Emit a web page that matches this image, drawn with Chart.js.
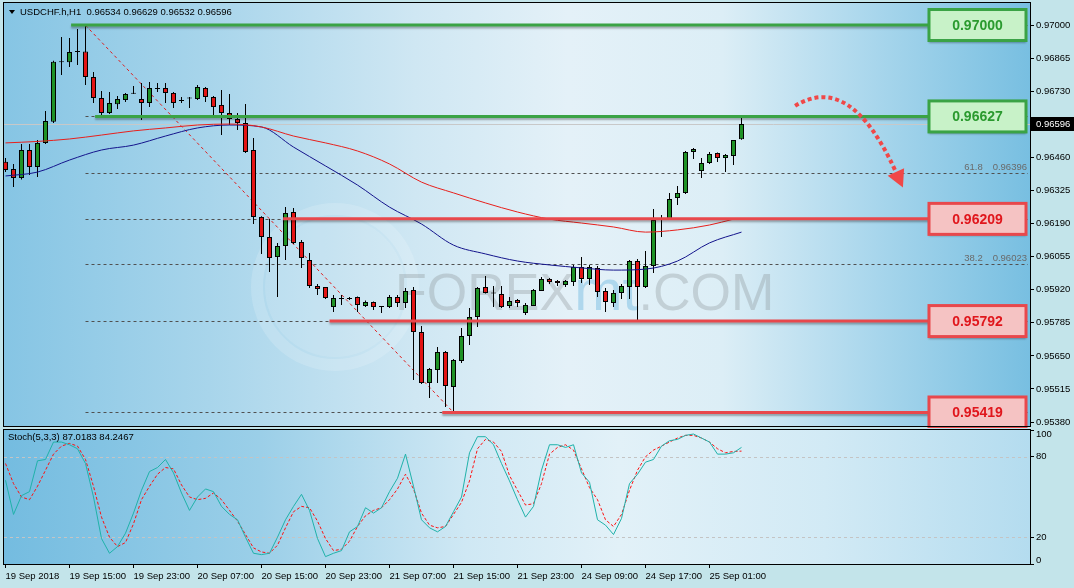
<!DOCTYPE html>
<html lang="en">
<head>
<meta charset="UTF-8">
<title>USDCHF.h H1</title>
<script src="https://cdn.jsdelivr.net/npm/chart.js@4.4.1/dist/chart.umd.min.js"></script>
<style>
  html, body { margin: 0; padding: 0; background: #c3e4ea; }
  #wrap { position: relative; width: 1074px; height: 588px; overflow: hidden; }
  #main { position: absolute; left: 0; top: 0; }
  #stoch { position: absolute; left: 0; top: 428px; }
</style>
</head>
<body>
<div id="wrap">
  <canvas id="main" width="1074" height="428"></canvas>
  <canvas id="stoch" width="1074" height="160"></canvas>
</div>
<script>
// ---- data ----
var symbolLabel = 'USDCHF.h,H1';

var opens = [
  0.96442, 0.96412, 0.96376, 0.96490, 0.96421, 0.96519, 0.96605, 0.96850, 0.96848, 0.96890,
  0.96892, 0.96788, 0.96702, 0.96641, 0.96677, 0.96694, 0.96720, 0.96698, 0.96682, 0.96740,
  0.96743, 0.96723, 0.96690, 0.96700, 0.96698, 0.96743, 0.96706, 0.96674, 0.96641, 0.96616,
  0.96600, 0.96490, 0.96217, 0.96135, 0.96053, 0.96098, 0.96237, 0.96115, 0.96041, 0.95935,
  0.95931, 0.95849, 0.95884, 0.95882, 0.95890, 0.95854, 0.95870, 0.95849, 0.95849, 0.95890,
  0.95866, 0.95919, 0.95747, 0.95539, 0.95592, 0.95666, 0.95523, 0.95629, 0.95731, 0.95809,
  0.95931, 0.95907, 0.95902, 0.95854, 0.95878, 0.95825, 0.95854, 0.95915, 0.95964, 0.95956,
  0.95939, 0.95951, 0.96013, 0.95964, 0.96009, 0.95915, 0.95866, 0.95907, 0.95931, 0.96037,
  0.95931, 0.96017, 0.96204, 0.96206, 0.96294, 0.96315, 0.96482, 0.96404, 0.96437, 0.96478,
  0.96457, 0.96466, 0.96534
];
var highs = [
  0.96457, 0.96433, 0.96514, 0.96514, 0.96531, 0.96649, 0.96854, 0.96951, 0.96947, 0.96984,
  0.96996, 0.96808, 0.96731, 0.96727, 0.96710, 0.96723, 0.96751, 0.96763, 0.96767, 0.96763,
  0.96763, 0.96727, 0.96706, 0.96706, 0.96755, 0.96747, 0.96710, 0.96735, 0.96718, 0.96641,
  0.96678, 0.96539, 0.96220, 0.96208, 0.96111, 0.96257, 0.96253, 0.96123, 0.96070, 0.95943,
  0.95931, 0.95898, 0.95898, 0.95890, 0.95892, 0.95876, 0.95872, 0.95851, 0.95898, 0.95898,
  0.95927, 0.95931, 0.95772, 0.95601, 0.95686, 0.95670, 0.95637, 0.95764, 0.95845, 0.95931,
  0.95976, 0.95935, 0.95935, 0.95890, 0.95882, 0.95866, 0.95923, 0.95972, 0.95968, 0.95960,
  0.95960, 0.96021, 0.96053, 0.96021, 0.96017, 0.95927, 0.95919, 0.95943, 0.96041, 0.96045,
  0.96078, 0.96249, 0.96225, 0.96315, 0.96343, 0.96486, 0.96498, 0.96457, 0.96482, 0.96480,
  0.96474, 0.96531, 0.96629
];
var lows = [
  0.96400, 0.96339, 0.96370, 0.96388, 0.96380, 0.96514, 0.96600, 0.96796, 0.96829, 0.96837,
  0.96755, 0.96682, 0.96629, 0.96637, 0.96657, 0.96686, 0.96718, 0.96612, 0.96665, 0.96727,
  0.96682, 0.96661, 0.96682, 0.96661, 0.96694, 0.96686, 0.96621, 0.96551, 0.96592, 0.96572,
  0.96478, 0.96188, 0.96066, 0.95992, 0.95890, 0.96041, 0.96106, 0.96009, 0.95927, 0.95898,
  0.95882, 0.95829, 0.95858, 0.95878, 0.95829, 0.95849, 0.95837, 0.95825, 0.95845, 0.95849,
  0.95845, 0.95552, 0.95535, 0.95478, 0.95539, 0.95441, 0.95419, 0.95621, 0.95694, 0.95768,
  0.95905, 0.95849, 0.95845, 0.95845, 0.95849, 0.95817, 0.95854, 0.95915, 0.95943, 0.95935,
  0.95931, 0.95935, 0.95947, 0.95939, 0.95890, 0.95829, 0.95849, 0.95882, 0.95882, 0.95792,
  0.95927, 0.95988, 0.96135, 0.96204, 0.96266, 0.96310, 0.96453, 0.96376, 0.96433, 0.96441,
  0.96400, 0.96429, 0.96532
];
var closes = [
  0.96408, 0.96376, 0.96490, 0.96421, 0.96519, 0.96608, 0.96850, 0.96848, 0.96890, 0.96892,
  0.96788, 0.96702, 0.96641, 0.96682, 0.96698, 0.96718, 0.96722, 0.96682, 0.96743, 0.96739,
  0.96723, 0.96682, 0.96692, 0.96702, 0.96747, 0.96706, 0.96665, 0.96641, 0.96616, 0.96600,
  0.96482, 0.96217, 0.96135, 0.96049, 0.96098, 0.96233, 0.96111, 0.96049, 0.95935, 0.95923,
  0.95886, 0.95886, 0.95882, 0.95884, 0.95858, 0.95870, 0.95849, 0.95851, 0.95890, 0.95866,
  0.95915, 0.95747, 0.95539, 0.95596, 0.95666, 0.95527, 0.95633, 0.95731, 0.95809, 0.95927,
  0.95907, 0.95905, 0.95849, 0.95874, 0.95866, 0.95858, 0.95919, 0.95964, 0.95951, 0.95947,
  0.95956, 0.96013, 0.95964, 0.96013, 0.95911, 0.95870, 0.95907, 0.95935, 0.96037, 0.95931,
  0.96017, 0.96204, 0.96206, 0.96290, 0.96315, 0.96482, 0.96494, 0.96437, 0.96474, 0.96457,
  0.96470, 0.96531, 0.96596
];

// moving averages, read every 4th bar
var maSlowAt = [0, 4, 8, 12, 16, 20, 24, 28, 32, 36, 40, 44, 48, 52, 56, 60, 64, 68, 72, 76, 80, 84, 88, 91];
var maSlow = [0.96519, 0.96525, 0.96535, 0.96551, 0.96568, 0.96580, 0.96592, 0.96596, 0.96584, 0.96547,
  0.96519, 0.96486, 0.96433, 0.96359, 0.96315, 0.96274, 0.96237, 0.96208, 0.96192, 0.96176,
  0.96155, 0.96164, 0.96184, 0.96208];
var maFastAt = [0, 4, 8, 12, 16, 20, 24, 28, 32, 36, 40, 44, 48, 52, 56, 60, 64, 68, 72, 76, 80, 84, 88, 92];
var maFast = [0.96384, 0.96400, 0.96449, 0.96490, 0.96510, 0.96547, 0.96580, 0.96592, 0.96584, 0.96502,
  0.96425, 0.96347, 0.96257, 0.96188, 0.96102, 0.96066, 0.96037, 0.96021, 0.96009, 0.96000,
  0.96004, 0.96037, 0.96111, 0.96155];

var stochK = [
  62.5, 37, 51, 54, 77, 78, 91, 91, 89, 86,
  75, 50, 19, 8, 13, 23, 38, 55, 69, 72,
  78, 68, 53, 40, 50, 56, 54, 43, 37, 33,
  20, 8, 7, 8, 20, 33, 43, 52, 40, 19,
  5.5, 8, 10, 24, 28, 42, 38, 42, 54, 64,
  82, 58, 33, 27, 24, 28, 39, 50, 83, 95,
  95, 89, 75, 62, 48, 35, 43, 70, 89, 89,
  87, 89, 68, 61, 33, 29, 22, 34, 60, 67,
  76, 78, 88, 92, 93, 96, 97, 94, 91, 82,
  82, 83, 87.0183
];
var stochD = [
  75, 60, 50, 48, 58, 70, 82, 88, 90, 88,
  78, 58, 35, 20, 13, 16, 30, 48, 58, 67,
  72, 71, 59, 50, 48, 49, 53, 48, 40, 32,
  22, 12, 9, 8, 14, 27, 39, 43, 42, 32,
  19, 10, 11, 17, 28, 36, 40, 42, 48, 56,
  67, 56, 38, 29, 27, 28, 37, 46, 62, 86,
  93, 91, 84, 66, 55, 44, 45, 60, 82, 87,
  89, 85, 71, 57, 48, 33, 28, 37, 55, 70,
  80, 85, 88, 91, 94, 96, 96, 94, 91, 86,
  83, 84, 84.2467
];

var priceTicks = [0.97000, 0.96865, 0.96730, 0.96595, 0.96460, 0.96325, 0.96190, 0.96055, 0.95920, 0.95785, 0.95650, 0.95515, 0.95380];
var stochTicks = [100, 80, 20, 0];
var stochLevels = [80, 20];
var timeIdx = [0, 8, 16, 24, 32, 40, 48, 56, 64, 72, 80, 88];
var timeLabels = ['19 Sep 2018', '19 Sep 15:00', '19 Sep 23:00', '20 Sep 07:00', '20 Sep 15:00', '20 Sep 23:00',
  '21 Sep 07:00', '21 Sep 15:00', '21 Sep 23:00', '24 Sep 09:00', '24 Sep 17:00', '25 Sep 01:00'];

var levelPrices = [0.97000, 0.96627, 0.96209, 0.95792, 0.95419];
var levelFrom = [8.2, 11.2, 34.7, 40.5, 54.6];   // bar where each drawn line starts
var levelBull = [true, true, false, false, false];

var fibLevels = [0.95419, 0.95792, 0.96023, 0.96209, 0.96396, 0.96627, 0.96999];
var fibNames = ['0.0', '23.6', '38.2', '50.0', '61.8', '76.4', '100.0'];
var fibFrom = 10, fibTo = 56;

// ---- drawing ----
var FONT = '"Liberation Sans", Arial, sans-serif';
var X_MIN = -0.1875, X_MAX = 128.0625;
var last = closes.length - 1;

function bg(ctx, a, stops) {
    var g = ctx.createLinearGradient(a.left, 0, a.right, 0);
    stops.forEach(function (s) { g.addColorStop(s[0], s[1]); });
    ctx.fillStyle = g;
    ctx.fillRect(a.left, a.top, a.right - a.left, a.bottom - a.top);
}

function frame(ctx, a) {
    ctx.strokeStyle = '#000';
    ctx.lineWidth = 1;
    ctx.strokeRect(a.left - 0.5, a.top - 0.5, a.right - a.left + 1, a.bottom - a.top + 1);
}

var mainDeco = {
    id: 'mainDeco',
    beforeDraw: function (chart) {
        var ctx = chart.ctx, a = chart.chartArea;
        ctx.save();
        ctx.fillStyle = '#c3e4ea';
        ctx.fillRect(0, 0, chart.width, chart.height);
        bg(ctx, a, [[0, '#86c5e4'], [0.2, '#a8d5eb'], [0.4, '#cfe7f3'], [0.55, '#e4f1f8'],
                    [0.7, '#dceef6'], [0.85, '#a8d6ec'], [1, '#78bfe1']]);
        ctx.restore();
    },
    beforeDatasetsDraw: function (chart) {
        var ctx = chart.ctx, a = chart.chartArea, x = chart.scales.x, y = chart.scales.y;
        ctx.save();
        ctx.beginPath();
        ctx.rect(a.left, a.top, a.right - a.left, a.bottom - a.top);
        ctx.clip();

        // watermark
        ctx.fillStyle = 'rgba(255,255,255,0.12)';
        ctx.beginPath(); ctx.arc(335, 287, 70, 0, Math.PI * 2); ctx.fill();
        ctx.strokeStyle = 'rgba(255,255,255,0.16)'; ctx.lineWidth = 12;
        ctx.beginPath(); ctx.arc(335, 287, 78, 0, Math.PI * 2); ctx.stroke();
        ctx.font = '52px ' + FONT;
        ctx.textBaseline = 'alphabetic';
        var wx = 395;
        ctx.fillStyle = 'rgba(130,135,140,0.30)';
        ctx.fillText('FOREX', wx, 310);
        wx += ctx.measureText('FOREX').width;
        ctx.fillStyle = 'rgba(110,185,225,0.45)';
        ctx.font = '58px ' + FONT;
        ctx.fillText('mt', wx, 310);
        wx += ctx.measureText('mt').width;
        ctx.font = '52px ' + FONT;
        ctx.fillStyle = 'rgba(130,135,140,0.30)';
        ctx.fillText('.COM', wx, 310);

        // current price line
        var cy = Math.round(y.getPixelForValue(closes[last])) + 0.5;
        ctx.strokeStyle = '#c8c8c8'; ctx.lineWidth = 1;
        ctx.beginPath(); ctx.moveTo(a.left, cy); ctx.lineTo(a.right, cy); ctx.stroke();

        // fibo levels
        ctx.strokeStyle = '#505050';
        ctx.setLineDash([3, 3]);
        fibLevels.forEach(function (v) {
            var py = Math.round(y.getPixelForValue(v)) + 0.5;
            ctx.beginPath(); ctx.moveTo(x.getPixelForValue(fibFrom), py); ctx.lineTo(a.right - 2, py); ctx.stroke();
        });
        ctx.strokeStyle = '#e01c1c';
        ctx.beginPath();
        ctx.moveTo(x.getPixelForValue(fibFrom), y.getPixelForValue(fibLevels[fibLevels.length - 1]));
        ctx.lineTo(x.getPixelForValue(fibTo), y.getPixelForValue(fibLevels[0]));
        ctx.stroke();
        ctx.setLineDash([]);

        ctx.font = '9.5px ' + FONT;
        ctx.fillStyle = '#6a6a6a';
        ctx.textAlign = 'right';
        ctx.textBaseline = 'bottom';
        fibLevels.forEach(function (v, i) {
            var py = y.getPixelForValue(v) - 1;
            var txt = v.toFixed(5);
            ctx.fillText(txt, 1027, py);
            ctx.fillText(fibNames[i], 1027 - ctx.measureText(txt).width - 10, py);
        });
        ctx.restore();
    },
    afterDatasetsDraw: function (chart) {
        var ctx = chart.ctx, a = chart.chartArea, x = chart.scales.x, y = chart.scales.y;
        ctx.save();
        // support / resistance lines with labels
        levelPrices.forEach(function (v, i) {
            var py = y.getPixelForValue(v);
            var line = levelBull[i] ? '#3aa345' : '#e8484c';
            var fill = levelBull[i] ? '#c8f2c8' : '#f5c3c3';
            var text = levelBull[i] ? '#2a9a2e' : '#e0161c';
            ctx.shadowColor = 'rgba(0,0,0,0.3)';
            ctx.shadowOffsetY = 2; ctx.shadowBlur = 2;
            ctx.strokeStyle = line; ctx.lineWidth = 3;
            ctx.beginPath(); ctx.moveTo(x.getPixelForValue(levelFrom[i]), py); ctx.lineTo(930, py); ctx.stroke();
            ctx.fillStyle = fill;
            ctx.fillRect(929, py - 15.5, 97, 31);
            ctx.shadowColor = 'transparent';
            ctx.strokeRect(929, py - 15.5, 97, 31);
            ctx.fillStyle = text;
            ctx.font = 'bold 14px ' + FONT;
            ctx.textAlign = 'center'; ctx.textBaseline = 'middle';
            ctx.fillText(v.toFixed(5), 977.5, py + 1);
        });

        // dotted arrow
        var p0 = [x.getPixelForValue(98.7), y.getPixelForValue(0.96670)];
        var pc = [x.getPixelForValue(105.6), y.getPixelForValue(0.96810)];
        var p1 = [x.getPixelForValue(111.3), y.getPixelForValue(0.96400)];
        ctx.strokeStyle = '#f04848'; ctx.lineWidth = 4; ctx.setLineDash([4, 3]);
        ctx.beginPath(); ctx.moveTo(p0[0], p0[1]); ctx.quadraticCurveTo(pc[0], pc[1], p1[0], p1[1]); ctx.stroke();
        ctx.setLineDash([]);
        var dx = p1[0] - pc[0], dy = p1[1] - pc[1], len = Math.sqrt(dx * dx + dy * dy);
        dx /= len; dy /= len;
        ctx.fillStyle = '#f04848';
        ctx.beginPath();
        ctx.moveTo(p1[0] + dx * 17, p1[1] + dy * 17);
        ctx.lineTo(p1[0] - dy * 9, p1[1] + dx * 9);
        ctx.lineTo(p1[0] + dy * 9, p1[1] - dx * 9);
        ctx.closePath(); ctx.fill();
        ctx.restore();
    },
    afterDraw: function (chart) {
        var ctx = chart.ctx, a = chart.chartArea, y = chart.scales.y;
        ctx.save();
        frame(ctx, a);
        // title
        ctx.fillStyle = '#000';
        ctx.beginPath(); ctx.moveTo(9, 10); ctx.lineTo(15, 10); ctx.lineTo(12, 14); ctx.closePath(); ctx.fill();
        ctx.font = '9.5px ' + FONT;
        ctx.textBaseline = 'middle'; ctx.textAlign = 'left';
        ctx.fillText(symbolLabel + '  ' + [opens[last], highs[last], lows[last], closes[last]].map(function (v) { return v.toFixed(5); }).join(' '), 20, 12.5);
        // current price tag
        var cy = Math.round(y.getPixelForValue(closes[last]));
        ctx.fillStyle = '#000';
        ctx.fillRect(a.right + 1, cy - 7, 43, 14);
        ctx.fillStyle = '#fff';
        ctx.fillText(closes[last].toFixed(5), a.right + 6, cy + 0.5);
        ctx.restore();
    }
};

var bodyColors = closes.map(function (c, i) { return c >= opens[i] ? '#1f9226' : '#e31414'; });

new Chart(document.getElementById('main'), {
    type: 'bar',
    data: {
        datasets: [
            {
                type: 'line', data: maSlowAt.map(function (t, i) { return { x: t, y: maSlow[i] }; }),
                borderColor: '#e8201c', borderWidth: 1, pointRadius: 0, cubicInterpolationMode: 'monotone', order: 0
            },
            {
                type: 'line', data: maFastAt.map(function (t, i) { return { x: t, y: maFast[i] }; }),
                borderColor: '#14148c', borderWidth: 1, pointRadius: 0, cubicInterpolationMode: 'monotone', order: 0
            },
            {
                data: opens.map(function (o, i) { return { x: i, y: [o, closes[i]] }; }),
                backgroundColor: bodyColors, borderColor: '#000', borderWidth: 1, borderSkipped: false,
                barThickness: 5, minBarLength: 1, inflateAmount: 0, grouped: false, order: 1
            },
            {
                data: lows.map(function (l, i) { return { x: i, y: [l, highs[i]] }; }),
                backgroundColor: '#000', borderWidth: 0, barThickness: 1, inflateAmount: 0, grouped: false, order: 2
            }
        ]
    },
    options: {
        responsive: false,
        animation: false,
        layout: { padding: { left: 4, top: 3, right: 0, bottom: 2 } },
        plugins: { legend: { display: false }, tooltip: { enabled: false } },
        scales: {
            x: { type: 'linear', min: X_MIN, max: X_MAX, offset: false, display: false },
            y: {
                position: 'right', min: 0.953639, max: 0.970898, beginAtZero: false,
                afterBuildTicks: function (s) { s.ticks = priceTicks.map(function (v) { return { value: v }; }); },
                afterFit: function (s) { s.width = 44; s.paddingTop = 0; s.paddingBottom = 0; },
                ticks: {
                    autoSkip: false, padding: 2, color: '#000', font: { family: FONT, size: 9.5 },
                    callback: function (v) { return v.toFixed(5); }
                },
                grid: { drawOnChartArea: false, tickLength: 4, color: '#000' },
                border: { color: '#000' }
            }
        }
    },
    plugins: [mainDeco]
});

var stochDeco = {
    id: 'stochDeco',
    beforeDraw: function (chart) {
        var ctx = chart.ctx, a = chart.chartArea;
        ctx.save();
        ctx.fillStyle = '#c3e4ea';
        ctx.fillRect(0, 0, chart.width, chart.height);
        bg(ctx, a, [[0, '#74bce0'], [0.25, '#9bcfe8'], [0.45, '#cfe8f4'], [0.6, '#e2f1f8'],
                    [0.8, '#d2eaf5'], [1, '#b4dcef']]);
        ctx.restore();
    },
    beforeDatasetsDraw: function (chart) {
        var ctx = chart.ctx, a = chart.chartArea, y = chart.scales.y;
        ctx.save();
        ctx.strokeStyle = '#c4c4c4'; ctx.lineWidth = 1; ctx.setLineDash([3, 3]);
        stochLevels.forEach(function (v) {
            var py = Math.round(y.getPixelForValue(v)) + 0.5;
            ctx.beginPath(); ctx.moveTo(a.left, py); ctx.lineTo(a.right, py); ctx.stroke();
        });
        ctx.restore();
    },
    afterDraw: function (chart) {
        var ctx = chart.ctx, a = chart.chartArea, y = chart.scales.y;
        ctx.save();
        frame(ctx, a);
        ctx.fillStyle = '#000';
        ctx.font = '9.5px ' + FONT;
        ctx.textAlign = 'left'; ctx.textBaseline = 'middle';
        ctx.fillText('Stoch(5,3,3) ' + stochK[last].toFixed(4) + ' ' + stochD[last].toFixed(4), 8, 9);
        stochTicks.forEach(function (v) {
            var py = y.getPixelForValue(v);
            if (v === 100) ctx.textBaseline = 'top';
            else if (v === 0) { ctx.textBaseline = 'bottom'; py += 1; }
            else ctx.textBaseline = 'middle';
            ctx.fillText(String(v), a.right + 6, py);
        });
        ctx.restore();
    }
};

new Chart(document.getElementById('stoch'), {
    type: 'line',
    data: {
        datasets: [
            { data: stochK.map(function (v, i) { return { x: i, y: v }; }), borderColor: '#20b2aa', borderWidth: 1, pointRadius: 0 },
            { data: stochD.map(function (v, i) { return { x: i, y: v }; }), borderColor: '#ff1010', borderWidth: 1, borderDash: [3, 2], pointRadius: 0 }
        ]
    },
    options: {
        responsive: false,
        animation: false,
        layout: { padding: { left: 4, top: 2, right: 0, bottom: 0 } },
        plugins: { legend: { display: false }, tooltip: { enabled: false } },
        scales: {
            x: {
                type: 'linear', min: X_MIN, max: X_MAX, offset: false,
                afterBuildTicks: function (s) { s.ticks = timeIdx.map(function (v) { return { value: v }; }); },
                afterFit: function (s) { s.height = 24; s.paddingLeft = 0; s.paddingRight = 0; },
                ticks: {
                    autoSkip: false, maxRotation: 0, minRotation: 0, align: 'start', padding: 3,
                    color: '#000', font: { family: FONT, size: 9.5 },
                    callback: function (v, i) { return timeLabels[i]; }
                },
                grid: { drawOnChartArea: false, tickLength: 4, color: '#000' },
                border: { color: '#000' }
            },
            y: {
                position: 'right', min: 0, max: 100,
                afterBuildTicks: function (s) { s.ticks = stochTicks.map(function (v) { return { value: v }; }); },
                afterFit: function (s) { s.width = 44; s.paddingTop = 0; s.paddingBottom = 0; },
                ticks: { color: 'rgba(0,0,0,0)', font: { family: FONT, size: 9.5 } },
                grid: { drawOnChartArea: false, tickLength: 4, color: '#000' },
                border: { color: '#000' }
            }
        }
    },
    plugins: [stochDeco]
});
</script>
</body>
</html>
